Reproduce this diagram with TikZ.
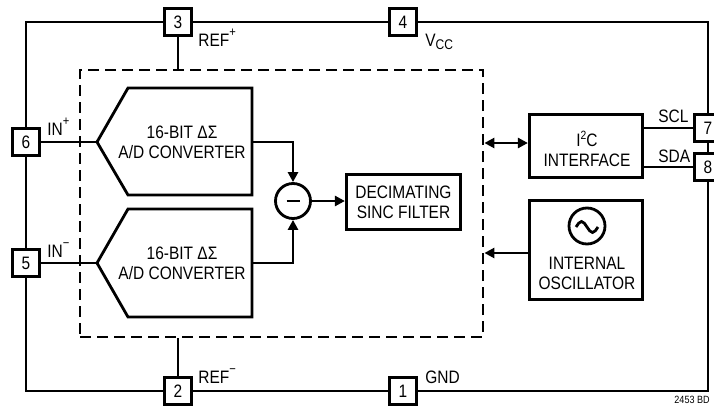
\documentclass[tikz,border=0pt]{standalone}
\usepackage{fontspec}
\setmainfont[FakeStretch=0.86]{Liberation Sans}
\usetikzlibrary{arrows.meta}
\newcommand\mysup[1]{\raisebox{10pt}{\fontsize{13}{13}\selectfont #1}}
\newcommand\mysub[1]{\raisebox{-2.5pt}{\fontsize{14}{14}\selectfont #1}}
\begin{document}
\begin{tikzpicture}[x=1pt,y=-1pt,line width=2.8pt,
  big/.style={font=\fontsize{18}{20}\selectfont},
  pinbox/.style={draw,fill=white,minimum width=27pt,minimum height=27pt,inner sep=0pt,big},
  blk/.style={draw,inner sep=0pt,align=center,big},
  txt/.style={inner sep=0pt,align=center,big},
  lbl/.style={anchor=base west,inner sep=0pt,big},
  arr/.style={-{Triangle[length=10pt,width=10pt]}},
  dbl/.style={{Triangle[length=10pt,width=10pt]}-{Triangle[length=10pt,width=10pt]}},
  core/.style={draw,dash pattern=on 11pt off 6pt,inner sep=0pt}
]
\useasboundingbox (0,0) rectangle (714,412);
% pins
\node[pinbox] (pin3) at (178,22) {3};
\node[pinbox] (pin4) at (403,22) {4};
\node[pinbox] (pin6) at (26,142) {6};
\node[pinbox] (pin5) at (26,263) {5};
\node[pinbox] (pin2) at (178,391) {2};
\node[pinbox] (pin1) at (403,391) {1};
\node[pinbox] (pin7) at (708,128) {7};
\node[pinbox] (pin8) at (708,167) {8};
% outer wiring
\draw (pin6) |- (pin3);
\draw (pin3) -- (pin4);
\draw (pin4) -| (pin7);
\draw (pin7) -- (pin8);
\draw (pin8) |- (pin1);
\draw (pin1) -- (pin2);
\draw (pin2) -| (pin5);
\draw (pin5) -- (pin6);
% dashed core
\node[core,minimum width=403pt,minimum height=267pt] (core) at (281.5,203.5) {};
\draw (pin3) -- (pin3 |- core.north);
\draw (pin2) -- (pin2 |- core.south);
% ADCs
\coordinate (a1in) at (97,142);
\coordinate (a1out) at (252,142);
\coordinate (a2in) at (97,263);
\coordinate (a2out) at (252,263);
\draw (a1in) -- (128,88) -- (252,88) -- (252,195) -- (128,195) -- cycle;
\draw (a2in) -- (128,209) -- (252,209) -- (252,317) -- (128,317) -- cycle;
\node[txt] (adc1) at (182,142) {16-BIT ΔΣ\\A/D CONVERTER};
\node[txt] (adc2) at (182,263) {16-BIT ΔΣ\\A/D CONVERTER};
\draw (pin6) -- (a1in);
\draw (pin5) -- (a2in);
% subtractor
\node[draw,circle,minimum size=35pt,inner sep=0pt] (sub) at (293,201) {};
\draw ([xshift=-6.5pt]sub.center) -- ([xshift=6.5pt]sub.center);
\draw[arr] (a1out) -| (sub.north);
\draw[arr] (a2out) -| (sub.south);
% decimating filter
\node[blk,minimum width=114.4pt,minimum height=55.4pt] (dec) at (403.5,202) {DECIMATING\\SINC FILTER};
\draw[arr] (sub.east) -- (sub.east -| dec.west);
% I2C
\node[blk,minimum width=113.4pt,minimum height=63.4pt] (i2c) at (586,146) {};
\node[txt] (i2ct) at (587,148.5) {I\raisebox{7pt}{\fontsize{12}{12}\selectfont 2}C\\INTERFACE};
\coordinate (i2cin) at ([yshift=3pt]i2c.west);
\draw[dbl] (core.east |- i2cin) -- (i2cin);
\draw (i2c.east |- pin7) -- (pin7);
\draw (i2c.east |- pin8) -- (pin8);
% oscillator
\node[blk,minimum width=113.4pt,minimum height=99.4pt] (osc) at (586,250) {};
\node[draw,circle,minimum size=36pt,inner sep=0pt] (sine) at (587,226) {};
\draw (sine.center) ++(-11,1) sin ++(5.5,-5.5) cos ++(5.5,5.5) sin ++(5.5,5.5) cos ++(5.5,-5.5);
\node[txt] (osct) at (587,273) {INTERNAL\\OSCILLATOR};
\coordinate (oscout) at ([yshift=-3pt]osc.west);
\draw[arr] (oscout) -- (core.east |- oscout);
% labels
\node[lbl] (lref3) at (197,47) {REF\mysup{+}};
\node[lbl] (lvcc) at (424,47) {V\mysub{CC}};
\node[lbl] (lin6) at (46,135) {IN\mysup{+}};
\node[lbl] (lin5) at (46,257) {IN\mysup{−}};
\node[lbl] (lref2) at (197,383) {REF\mysup{−}};
\node[lbl] (lgnd) at (424,383) {GND};
\node[lbl] (lscl) at (657,122) {SCL};
\node[lbl] (lsda) at (657,162) {SDA};
\node[anchor=base east,inner sep=0pt,font=\fontsize{10.5}{11}\selectfont] (code) at (711,403) {2453 BD};
\end{tikzpicture}
\end{document}
